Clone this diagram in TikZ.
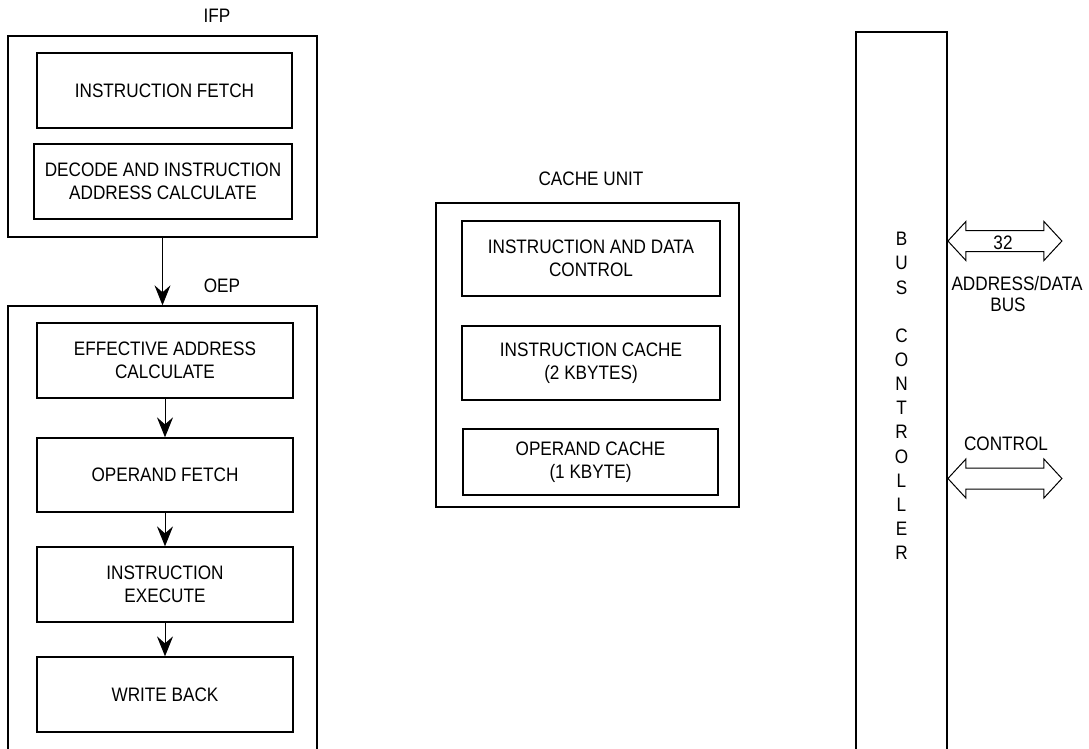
\documentclass[tikz,border=0pt]{standalone}
\usepackage{fontspec}
\setmainfont{Liberation Sans}[FakeStretch=0.88]
\usetikzlibrary{arrows.meta}
\tikzset{
  every node/.style={font=\fontsize{19.5}{23}\selectfont},
  blk/.style={draw, line width=1.3pt, inner sep=0pt, align=center},
  outerbox/.style={draw, line width=1.4pt, inner sep=0pt},
  flow/.style={line width=1pt, -{Stealth[length=20pt,width=16pt,inset=7pt]}},
  lbl/.style={inner sep=0pt, align=center},
  dblarrow/.pic={
    \draw[line width=1pt, fill=white] (0,0) -- (18,-19.5) -- (18,-10.5) -- (96,-10.5) -- (96,-19.5) -- (114,0)
      -- (96,19.5) -- (96,10.5) -- (18,10.5) -- (18,19.5) -- cycle;
  }
}
\begin{document}
\begin{tikzpicture}[x=1pt,y=-1pt]
\useasboundingbox (0,0) rectangle (1089,748);
\clip (0,0) rectangle (1089,748);
\fill[white] (0,0) rectangle (1089,748);

% IFP
\node[outerbox, minimum width=309pt, minimum height=201pt] (ifp) at (162.5,136.5) {};
\node[lbl] (ifplbl) at (217,15.5) {IFP};
\node[blk, minimum width=255pt, minimum height=75pt] (fetch) at (164.5,90.5) {INSTRUCTION FETCH};
\node[blk, minimum width=258pt, minimum height=75pt] (decode) at (163,181.5) {DECODE AND INSTRUCTION\\ADDRESS CALCULATE};

% OEP
\node[outerbox, minimum width=309pt, minimum height=454pt] (oep) at (162.5,533) {};
\node[lbl] (oeplbl) at (222,286) {OEP};
\node[blk, minimum width=256pt, minimum height=75pt] (eac) at (165,360.5) {EFFECTIVE ADDRESS\\CALCULATE};
\node[blk, minimum width=256pt, minimum height=74pt] (opf) at (165,475) {OPERAND FETCH};
\node[blk, minimum width=256pt, minimum height=75pt] (ie) at (165,584.5) {INSTRUCTION\\EXECUTE};
\node[blk, minimum width=256pt, minimum height=75pt] (wb) at (165,694.5) {WRITE BACK};

\draw[flow] (ifp.south) -- (oep.north);
\draw[flow] (eac.south) -- (opf.north);
\draw[flow] (opf.south) -- (ie.north);
\draw[flow] (ie.south) -- (wb.north);

% Cache unit
\node[outerbox, minimum width=303pt, minimum height=304pt] (cache) at (587.5,355) {};
\node[lbl] (cachelbl) at (591,179) {CACHE UNIT};
\node[blk, minimum width=258pt, minimum height=75pt] (idc) at (591,258.5) {INSTRUCTION AND DATA\\CONTROL};
\node[blk, minimum width=258pt, minimum height=74pt] (ic) at (591,363) {INSTRUCTION CACHE\\(2 KBYTES)};
\node[blk, minimum width=255pt, minimum height=66pt] (oc) at (590.5,462) {OPERAND CACHE\\(1 KBYTE)};

% Bus controller
\node[draw, line width=1.8pt, inner sep=0pt, minimum width=91pt, minimum height=728pt, align=center,
      font=\fontsize{19.5}{24.15}\selectfont] (bus) at (901.5,396)
  {B\\U\\S\\[24.15pt]C\\O\\N\\T\\R\\O\\L\\L\\E\\R};

\coordinate (adtip) at (bus.east |- 0,241);
\coordinate (cttip) at (bus.east |- 0,478.5);
\pic at (adtip) {dblarrow};
\pic at (cttip) {dblarrow};
\node[lbl] (w32) at (1003,242.5) {32};
\node[lbl] (adlbl) at (1017,284) {ADDRESS/DATA};
\node[lbl] (buslbl) at (1008,305) {BUS};
\node[lbl] (ctlbl) at (1006,444) {CONTROL};
\end{tikzpicture}
\end{document}
